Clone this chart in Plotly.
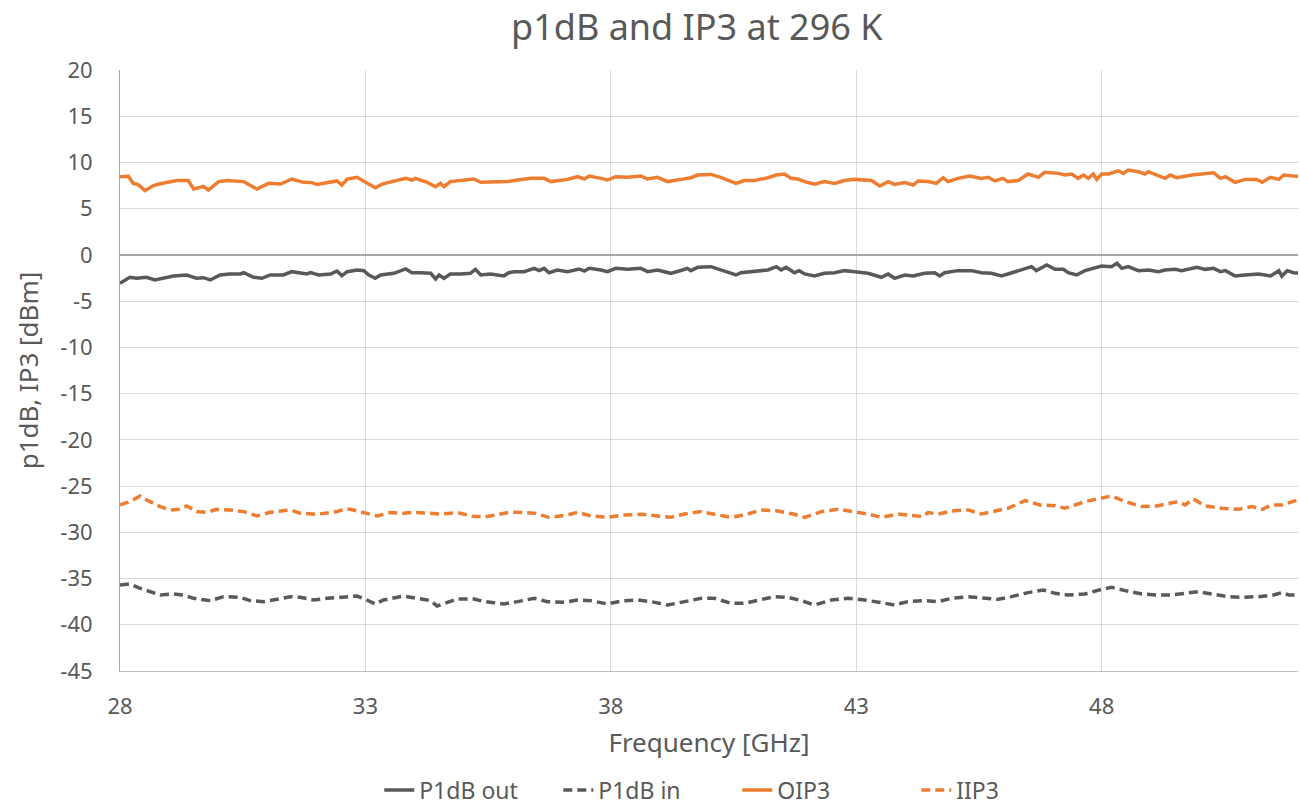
import plotly.graph_objects as go

# ---- data ----
oip3_f = [28.0, 28.17, 28.27, 28.37, 28.51, 28.68, 28.82, 29.02, 29.16, 29.39, 29.5, 29.63, 29.7, 29.8, 30.01, 30.18, 30.52, 30.79, 31.03, 31.27, 31.5, 31.74, 31.91, 32.01, 32.22, 32.42, 32.52, 32.63, 32.83, 33.0, 33.2, 33.34, 33.58, 33.82, 33.95, 34.02, 34.26, 34.43, 34.53, 34.6, 34.73, 35.01, 35.21, 35.35, 35.62, 35.89,
          36.1, 36.37, 36.64, 36.78, 37.12, 37.32, 37.46, 37.56, 37.8, 37.93, 38.1, 38.34, 38.61, 38.75, 38.95, 39.16, 39.43, 39.63, 39.77, 40.04, 40.24, 40.55, 40.72, 40.92, 41.2, 41.37, 41.54, 41.67, 41.81, 41.95, 42.15, 42.35, 42.56, 42.76, 42.97, 43.31, 43.48, 43.65, 43.78,
          43.99, 44.16, 44.26, 44.46, 44.63, 44.77, 44.87, 45.07, 45.31, 45.55, 45.69, 45.82, 45.99, 46.09, 46.3, 46.5, 46.71, 46.84, 47.12, 47.25, 47.39, 47.52, 47.63, 47.73, 47.83, 47.9, 48.0, 48.14, 48.34, 48.44, 48.54, 48.75, 48.88, 48.95, 49.16, 49.29, 49.4, 49.53, 49.84, 50.28, 50.42, 50.52, 50.72, 50.92, 51.16, 51.27, 51.44, 51.61, 51.71, 51.95, 52.05]
oip3 = [8.46, 8.5, 7.74, 7.6, 6.95, 7.5, 7.7, 7.93, 8.04, 8.04, 7.13, 7.3, 7.4, 7.02, 7.93, 8.04, 7.93, 7.13, 7.74, 7.66, 8.21, 7.85, 7.82, 7.63, 7.82, 8.0, 7.56, 8.21, 8.39, 7.85, 7.27, 7.66, 7.93, 8.28, 8.1, 8.28, 7.85, 7.38, 7.74, 7.38, 7.93, 8.04, 8.21, 7.85, 7.85, 7.93,
        8.1, 8.28, 8.28, 7.93, 8.17, 8.46, 8.21, 8.53, 8.28, 8.1, 8.46, 8.39, 8.53, 8.21, 8.39, 7.93, 8.17, 8.35, 8.64, 8.71, 8.39, 7.74, 8.04, 8.04, 8.35, 8.64, 8.75, 8.28, 8.21, 7.93, 7.66, 7.93, 7.74, 8.04, 8.17, 8.04, 7.45, 7.93, 7.63,
        7.82, 7.56, 8.0, 7.93, 7.74, 8.35, 7.93, 8.28, 8.53, 8.28, 8.39, 8.0, 8.28, 7.93, 8.04, 8.75, 8.39, 8.93, 8.82, 8.64, 8.75, 8.28, 8.64, 8.28, 8.75, 8.17, 8.75, 8.75, 9.1, 8.82, 9.18, 9.0, 8.75, 9.0, 8.57, 8.28, 8.64, 8.35, 8.64, 8.89, 8.28, 8.46, 7.85, 8.17, 8.17, 7.85, 8.39, 8.17, 8.64, 8.57, 8.46]

p1out_f = [28.0, 28.2, 28.34, 28.54, 28.71, 28.88, 29.09, 29.36, 29.56, 29.7, 29.84, 30.04, 30.24, 30.45, 30.52, 30.72, 30.89, 31.06, 31.33, 31.5, 31.67, 31.81, 31.88, 32.05, 32.29, 32.42, 32.52, 32.63, 32.83, 32.97, 33.07, 33.2, 33.31, 33.58, 33.82, 33.95, 34.12, 34.33, 34.43, 34.5, 34.6, 34.73, 34.94, 35.14, 35.24, 35.35, 35.55, 35.69, 35.82, 35.92,
           36.03, 36.23, 36.44, 36.54, 36.64, 36.74, 36.91, 37.12, 37.35, 37.46, 37.56, 37.8, 37.93, 38.1, 38.34, 38.61, 38.75, 38.95, 39.22, 39.46, 39.56, 39.63, 39.77, 40.04, 40.24, 40.55, 40.65, 40.92, 41.2, 41.37, 41.47, 41.57, 41.74, 41.84, 41.95, 42.15, 42.35, 42.56, 42.76, 42.97, 43.24, 43.51, 43.65, 43.78,
           43.99, 44.16, 44.39, 44.6, 44.7, 44.8, 45.07, 45.35, 45.55, 45.75, 45.96, 46.09, 46.37, 46.57, 46.67, 46.88, 47.05, 47.22, 47.32, 47.49, 47.66, 47.86, 48.0, 48.2, 48.31, 48.41, 48.54, 48.75, 48.95, 49.16, 49.29, 49.5, 49.63, 49.94, 50.11, 50.28, 50.42, 50.52, 50.72, 50.92, 51.2, 51.44, 51.61, 51.67, 51.78, 51.91, 52.05]
p1out = [-3.07, -2.42, -2.53, -2.42, -2.71, -2.53, -2.28, -2.17, -2.53, -2.46, -2.71, -2.17, -2.06, -2.06, -1.92, -2.42, -2.53, -2.17, -2.17, -1.81, -1.99, -2.06, -1.92, -2.17, -2.06, -1.74, -2.24, -1.81, -1.63, -1.70, -2.17, -2.53, -2.17, -1.99, -1.52, -1.92, -1.92, -1.99, -2.6, -2.17, -2.53, -2.06, -2.06, -1.99, -1.56, -2.17, -2.06, -2.17, -2.28, -1.92,
         -1.81, -1.81, -1.45, -1.70, -1.45, -1.92, -1.63, -1.81, -1.52, -1.74, -1.45, -1.63, -1.81, -1.45, -1.56, -1.45, -1.81, -1.63, -1.99, -1.63, -1.45, -1.70, -1.34, -1.27, -1.63, -2.17, -1.92, -1.81, -1.63, -1.27, -1.63, -1.34, -1.92, -1.70, -2.06, -2.28, -1.99, -1.92, -1.70, -1.81, -1.99, -2.42, -2.06, -2.53,
         -2.17, -2.28, -1.99, -1.92, -2.28, -1.92, -1.70, -1.70, -1.92, -1.99, -2.28, -2.06, -1.56, -1.27, -1.70, -1.09, -1.56, -1.56, -1.92, -2.17, -1.70, -1.45, -1.2, -1.27, -0.91, -1.45, -1.27, -1.70, -1.63, -1.81, -1.63, -1.56, -1.70, -1.34, -1.56, -1.45, -1.81, -1.70, -2.28, -2.17, -2.06, -2.28, -1.70, -2.28, -1.70, -1.92, -1.99]

iip3_f = [28.0, 28.2, 28.41, 28.54, 28.82, 29.02, 29.22, 29.36, 29.56, 29.77, 29.97, 30.24, 30.52, 30.79, 31.06, 31.47, 31.67, 32.01, 32.42, 32.56, 32.69, 32.97, 33.24, 33.51, 33.78, 33.99, 34.26, 34.53, 34.87, 35.21, 35.48, 35.72, 35.92,
          36.1, 36.44, 36.74, 37.12, 37.32, 37.59, 37.93, 38.27, 38.61, 38.95, 39.22, 39.5, 39.84, 40.11, 40.45, 40.72, 41.06, 41.4, 41.74, 41.95, 42.29, 42.63, 42.9, 43.24, 43.51, 43.85,
          44.05, 44.36, 44.46, 44.67, 44.94, 45.28, 45.55, 45.82, 46.09, 46.44, 46.64, 46.74, 47.05, 47.25, 47.66, 48.0, 48.2, 48.48, 48.82, 49.12, 49.36, 49.56, 49.7, 49.87, 50.11, 50.45, 50.79, 51.06, 51.27, 51.47, 51.67, 51.95, 52.05]
iip3 = [-27.04, -26.68, -26.07, -26.5, -27.22, -27.58, -27.51, -27.15, -27.76, -27.84, -27.51, -27.58, -27.76, -28.23, -27.84, -27.58, -27.94, -28.05, -27.76, -27.51, -27.51, -27.84, -28.23, -27.87, -27.94, -27.84, -27.94, -28.02, -27.87, -28.3, -28.3, -28.05, -27.84,
        -27.84, -27.94, -28.38, -28.13, -27.84, -28.23, -28.38, -28.13, -28.05, -28.23, -28.38, -28.02, -27.76, -28.05, -28.38, -28.13, -27.58, -27.69, -28.05, -28.38, -27.76, -27.51, -27.76, -28.02, -28.38, -28.02,
        -28.13, -28.3, -27.87, -28.02, -27.69, -27.58, -28.02, -27.69, -27.4, -26.57, -26.94, -27.04, -27.12, -27.4, -26.68, -26.32, -26.07, -26.68, -27.22, -27.15, -26.86, -26.68, -27.04, -26.4, -27.15, -27.4, -27.51, -27.22, -27.51, -27.04, -27.04, -26.57, -26.3]

p1in_f = [28.0, 28.2, 28.41, 28.61, 28.82, 29.09, 29.29, 29.5, 29.84, 30.11, 30.45, 30.65, 30.93, 31.2, 31.47, 31.67, 31.95, 32.22, 32.56, 32.83, 33.03, 33.2, 33.37, 33.78, 34.05, 34.33, 34.46, 34.6, 34.87, 35.21, 35.42, 35.62, 35.82,
          36.1, 36.44, 36.71, 37.05, 37.32, 37.59, 37.93, 38.27, 38.54, 38.82, 39.16, 39.5, 39.84, 40.11, 40.45, 40.72, 40.99, 41.33, 41.61, 41.88, 42.15, 42.49, 42.83, 43.17, 43.51, 43.78,
          44.05, 44.39, 44.67, 44.94, 45.28, 45.62, 45.89, 46.16, 46.5, 46.81, 47.05, 47.32, 47.66, 48.0, 48.2, 48.48, 48.82, 49.12, 49.43, 49.7, 49.97, 50.24, 50.58, 50.86, 51.2, 51.5, 51.67, 51.81, 52.05]
p1in = [-35.7, -35.59, -36.06, -36.42, -36.78, -36.67, -36.78, -37.14, -37.39, -36.96, -37.03, -37.39, -37.5, -37.25, -36.96, -37.03, -37.32, -37.14, -36.96, -36.89, -37.32, -37.75, -37.32, -36.89, -37.14, -37.39, -37.97, -37.68, -37.21, -37.21, -37.5, -37.61, -37.75,
        -37.5, -37.14, -37.5, -37.57, -37.32, -37.39, -37.75, -37.39, -37.32, -37.5, -37.86, -37.5, -37.14, -37.14, -37.68, -37.68, -37.39, -36.96, -37.03, -37.39, -37.86, -37.32, -37.14, -37.32, -37.61, -37.86,
        -37.5, -37.39, -37.5, -37.14, -36.96, -37.14, -37.25, -36.96, -36.52, -36.24, -36.6, -36.78, -36.67, -36.16, -35.95, -36.31, -36.67, -36.78, -36.78, -36.6, -36.42, -36.67, -36.96, -37.03, -36.96, -36.78, -36.52, -36.78, -36.8]

y_tick_vals = [20, 15, 10, 5, 0, -5, -10, -15, -20, -25, -30, -35, -40, -45]
y_tick_text = ["20", "15", "10", "5", "0", "-5", "-10", "-15", "-20", "-25", "-30", "-35", "-40", "-45"]
x_tick_vals = [28, 33, 38, 43, 48]

GRAY = "#595959"
ORANGE = "#ED7D31"
FONT = "Noto Sans"
DASH = "9px,5px"

fig = go.Figure()
fig.add_trace(go.Scatter(x=p1out_f, y=p1out, mode="lines", name="P1dB out",
                         line=dict(color=GRAY, width=3.5)))
fig.add_trace(go.Scatter(x=p1in_f, y=p1in, mode="lines", name="P1dB in",
                         line=dict(color=GRAY, width=3.5, dash=DASH)))
fig.add_trace(go.Scatter(x=oip3_f, y=oip3, mode="lines", name="OIP3",
                         line=dict(color=ORANGE, width=3.5)))
fig.add_trace(go.Scatter(x=iip3_f, y=iip3, mode="lines", name="IIP3",
                         line=dict(color=ORANGE, width=3.5, dash=DASH)))

fig.update_layout(
    width=1300, height=806,
    paper_bgcolor="white", plot_bgcolor="white",
    margin=dict(l=120, r=2, t=70, b=135, autoexpand=False),
    font=dict(family=FONT, color=GRAY, size=22),
    title=dict(text="p1dB and IP3 at 296 K", xref="container", x=0.536, xanchor="center",
               yref="container", y=0.966, yanchor="middle",
               font=dict(size=36, color=GRAY, family=FONT)),
    showlegend=True,
    legend=dict(orientation="h", x=0.524, xanchor="center", y=-0.198, yanchor="middle",
                font=dict(size=23, color=GRAY), entrywidth=134, entrywidthmode="pixels",
                traceorder="normal"),
    xaxis=dict(range=[28, 52], tickmode="array", tickvals=x_tick_vals,
               showgrid=True, gridcolor="#d9d9d9",
               gridwidth=1, showline=True, linecolor="#bfbfbf", linewidth=1,
               zeroline=False, ticks="", tickfont=dict(size=22, color=GRAY), automargin=False,
               ticklabelstandoff=16,
               title=dict(text="Frequency [GHz]", font=dict(size=26, color=GRAY), standoff=14)),
    yaxis=dict(range=[-45, 20], tickmode="array", tickvals=y_tick_vals, ticktext=y_tick_text,
               showgrid=True, gridcolor="#d9d9d9",
               gridwidth=1, showline=True, linecolor="#a6a6a6", linewidth=1,
               zeroline=True, zerolinecolor="#a6a6a6", zerolinewidth=1.5, automargin=False,
               ticks="", tickfont=dict(size=22, color=GRAY), ticklabelstandoff=22,
               title=dict(text="p1dB, IP3 [dBm]", font=dict(size=26, color=GRAY), standoff=14)),
)

fig.write_html("out.html", config={"displayModeBar": False},
               post_script="document.body.style.margin='0';document.body.style.overflow='hidden';")
